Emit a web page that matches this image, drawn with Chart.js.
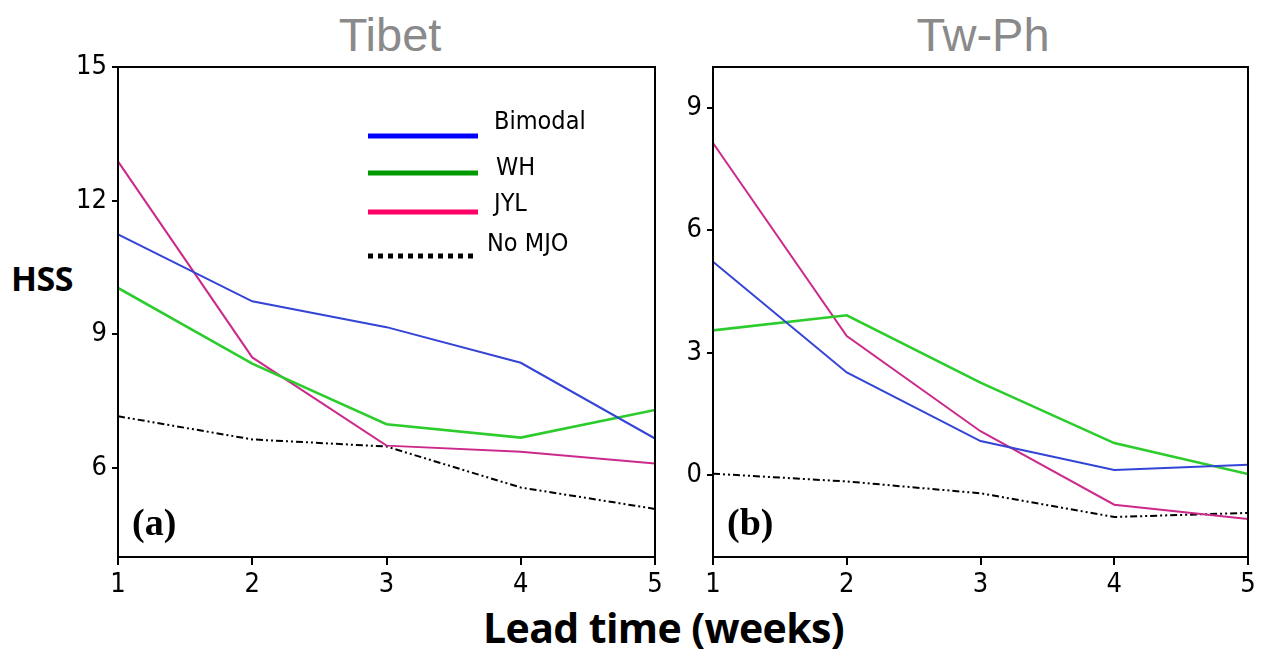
<!DOCTYPE html>
<html>
<head>
<meta charset="utf-8">
<script src="https://cdn.jsdelivr.net/npm/chart.js@4/dist/chart.umd.min.js"></script>
<style>
  body { margin: 0; background: #fff; width: 1268px; height: 656px; position: relative; overflow: hidden; }
  .box { position: absolute; }
  .title { position: absolute; font-family: "Liberation Sans", Arial, sans-serif; font-size: 47px; color: #8a8a8a; transform: translateX(-50%); white-space: nowrap; }
  .bold { position: absolute; font-family: "Open Sans", "Liberation Sans", sans-serif; font-weight: bold; color: #000; white-space: nowrap; }
</style>
</head>
<body>
<div class="title" style="left:390px; top:7px;">Tibet</div>
<div class="title" style="left:983px; top:7px;">Tw-Ph</div>
<div class="bold" style="left:11px; top:255px; font-size:34px; letter-spacing:-0.5px;">HSS</div>
<div class="bold" style="left:483px; top:599px; font-size:41px; letter-spacing:-0.6px;">Lead time (weeks)</div>
<div class="box" style="left:60px; top:50px; width:620px; height:560px;"><canvas id="chartA"></canvas></div>
<div class="box" style="left:655px; top:50px; width:613px; height:560px;"><canvas id="chartB"></canvas></div>
<script>
// lead time in weeks
const weeks = [1, 2, 3, 4, 5];

// Tibet HSS
const tibetBimodal = [11.24, 9.74, 9.16, 8.36, 6.66];
const tibetWH = [10.04, 8.34, 6.98, 6.68, 7.30];
const tibetJYL = [12.88, 8.48, 6.50, 6.36, 6.10];
const tibetNoMJO = [7.16, 6.64, 6.48, 5.56, 5.08];

// Tw-Ph HSS
const twphBimodal = [5.23, 2.52, 0.84, 0.13, 0.26];
const twphWH = [3.55, 3.92, 2.27, 0.79, 0.03];
const twphJYL = [8.14, 3.41, 1.08, -0.72, -1.07];
const twphNoMJO = [0.04, -0.15, -0.44, -1.02, -0.92];

const seriesNames = ["Bimodal", "WH", "JYL", "No MJO"];
const lineColors = ["#3344d6", "#2ccc2c", "#cc2a8a", "#000000"];
const legendColors = ["#0000ff", "#009900", "#ff0066", "#000000"];

const tickFont = { family: "'DejaVu Sans Condensed', 'Liberation Sans Narrow', sans-serif", size: 27 };

// draws the box around the plot, the panel tag and (optionally) the legend
const framePlugin = {
  id: "frame",
  afterDraw(chart, args, opts) {
    const ctx = chart.ctx;
    const a = chart.chartArea;
    ctx.save();
    ctx.strokeStyle = "#000";
    ctx.lineWidth = 2;
    ctx.strokeRect(a.left, a.top, a.right - a.left, a.bottom - a.top);

    ctx.fillStyle = "#000";
    ctx.font = "bold 38px 'Liberation Serif', 'Times New Roman', serif";
    ctx.textBaseline = "alphabetic";
    ctx.fillText(opts.tag, a.left + 14, a.bottom - 22);

    if (opts.legend) {
      const labelDx = [126, 128, 126, 119];
      const labelDy = [-14, -5, -8, -12];
      ctx.font = "25px 'DejaVu Sans Condensed', 'Liberation Sans', sans-serif";
      chart.data.datasets.forEach((ds, i) => {
        const x0 = a.left + 250;
        const y = a.top + [69, 106, 145, 189][i];
        ctx.beginPath();
        ctx.strokeStyle = legendColors[i];
        ctx.lineWidth = 5;
        if (i === 3) ctx.setLineDash([5, 5]);
        else ctx.setLineDash([]);
        ctx.moveTo(x0, y);
        ctx.lineTo(x0 + 110, y);
        ctx.stroke();
        ctx.setLineDash([]);
        ctx.fillStyle = "#000";
        ctx.textBaseline = "middle";
        ctx.fillText(ds.label, x0 + labelDx[i], y + labelDy[i]);
      });
    }
    ctx.restore();
  }
};

function makeDatasets(values) {
  return values.map((v, i) => ({
    label: seriesNames[i],
    data: v,
    borderColor: lineColors[i],
    borderWidth: i === 1 ? 2.6 : 2,
    borderDash: i === 3 ? [7, 3, 2, 3, 2, 3] : [],
    pointRadius: 0,
    tension: 0,
    fill: false
  }));
}

function makeChart(id, values, yMin, yMax, yStep, tag, legend, leftW, padRight) {
  return new Chart(document.getElementById(id), {
    type: "line",
    data: { labels: weeks, datasets: makeDatasets(values) },
    options: {
      responsive: true,
      maintainAspectRatio: false,
      animation: false,
      layout: { padding: { top: 17, right: padRight, left: 0, bottom: 0 } },
      plugins: {
        legend: { display: false },
        tooltip: { enabled: false },
        frame: { tag: tag, legend: legend }
      },
      scales: {
        x: {
          type: "linear",
          min: 1,
          max: 5,
          afterFit: (s) => { s.height = 53; s.paddingLeft = 0; s.paddingRight = 0; },
          afterBuildTicks: (s) => { s.ticks = weeks.map((w) => ({ value: w })); },
          grid: { display: true, drawOnChartArea: false, tickLength: 8, color: "#000", lineWidth: 2 },
          border: { display: true, color: "#000", width: 2 },
          ticks: { color: "#000", font: tickFont, padding: 4, maxRotation: 0 }
        },
        y: {
          min: yMin,
          max: yMax,
          afterFit: (s) => { s.width = leftW; s.paddingTop = 0; s.paddingBottom = 0; },
          afterBuildTicks: (s) => {
            const t = [];
            for (let v = yMax - (yMax % yStep === 0 ? 0 : yMax % yStep); v >= yMin; v -= yStep) {
              if (v > yMin) t.push({ value: v });
            }
            s.ticks = t.reverse();
          },
          grid: { display: true, drawOnChartArea: false, tickLength: 6, color: "#000", lineWidth: 2 },
          border: { display: true, color: "#000", width: 2 },
          ticks: { color: "#000", font: tickFont, padding: 5 }
        }
      }
    },
    plugins: [framePlugin]
  });
}

makeChart("chartA", [tibetBimodal, tibetWH, tibetJYL, tibetNoMJO], 4, 15, 3, "(a)", true, 58, 25);
makeChart("chartB", [twphBimodal, twphWH, twphJYL, twphNoMJO], -2, 10, 3, "(b)", false, 58, 20);
</script>
</body>
</html>
